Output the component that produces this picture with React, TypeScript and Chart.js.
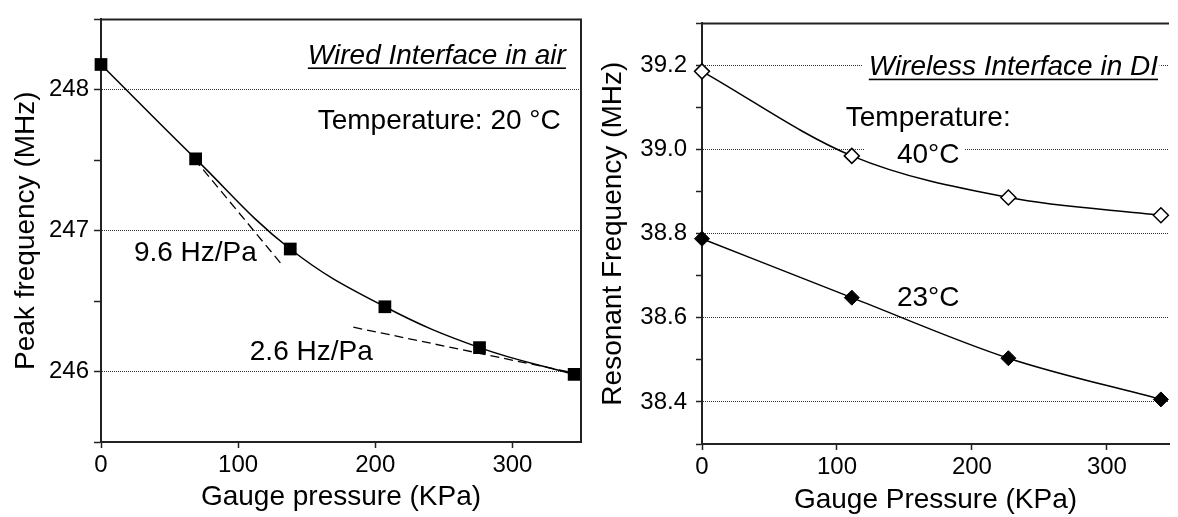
import React, { useEffect, useRef } from 'react';
import { Chart, registerables } from 'chart.js';

Chart.register(...registerables);

const FONT = "'Liberation Sans', Arial, Helvetica, sans-serif";

// ---- Left chart: wired interface in air ----
const wiredPressure = [0, 69, 138, 207, 276, 345];
const wiredFreq = [248.18, 247.51, 246.87, 246.46, 246.17, 245.98];
const tangentLowX = [68, 131];
const tangentLowY = [247.51, 246.77];
const tangentHighX = [184, 345];
const tangentHighY = [246.315, 245.99];

// ---- Right chart: wireless interface in DI ----
const wirelessPressure = [0, 111, 227, 340];
const freq40C = [39.186, 38.985, 38.886, 38.844];
const freq23C = [38.788, 38.648, 38.504, 38.406];

const INK = '#000';
const AXIS = '#222';
const GRID = '#333';

type Note = {
  text: string;
  x: number;
  y: number;
  align: CanvasTextAlign;
  size: number;
  italic?: boolean;
  underline?: boolean;
};
type Mask = { x1: number; x2: number; y: number };

const pts = (xs: number[], ys: number[]) => xs.map((x, i) => ({ x, y: ys[i] }));

function makeNotesPlugin(notes: Note[], masks: Mask[]) {
  return {
    id: 'notes',
    beforeDatasetsDraw(chart: any) {
      const { ctx, scales } = chart;
      const xs = scales.x;
      const ys = scales.y;
      ctx.save();
      ctx.fillStyle = '#fff';
      for (const m of masks) {
        const a = xs.getPixelForValue(m.x1);
        const b = xs.getPixelForValue(m.x2);
        const py = ys.getPixelForValue(m.y);
        ctx.fillRect(a, py - 3, b - a, 6);
      }
      ctx.restore();
    },
    afterDatasetsDraw(chart: any) {
      const { ctx, scales } = chart;
      const xs = scales.x;
      const ys = scales.y;
      ctx.save();
      for (const n of notes) {
        ctx.font = `${n.italic ? 'italic ' : ''}${n.size}px ${FONT}`;
        ctx.textAlign = n.align;
        ctx.textBaseline = 'alphabetic';
        ctx.fillStyle = INK;
        const px = xs.getPixelForValue(n.x);
        const py = ys.getPixelForValue(n.y);
        ctx.fillText(n.text, px, py);
        if (n.underline) {
          const w = ctx.measureText(n.text).width;
          const left = n.align === 'right' ? px - w : n.align === 'center' ? px - w / 2 : px;
          ctx.fillRect(left, py + 3.5, w, 1.6);
        }
      }
      ctx.restore();
    },
  };
}

function makeFramePlugin(drawRight: boolean) {
  return {
    id: 'frame',
    afterDraw(chart: any) {
      const { ctx, chartArea } = chart;
      ctx.save();
      ctx.strokeStyle = AXIS;
      ctx.lineWidth = 2;
      ctx.beginPath();
      ctx.moveTo(chartArea.left, chartArea.top);
      ctx.lineTo(chartArea.right, chartArea.top);
      if (drawRight) {
        ctx.lineTo(chartArea.right, chartArea.bottom);
      }
      ctx.stroke();
      ctx.restore();
    },
  };
}

const tickFont = { family: FONT, size: 24 };
const titleFont = { family: FONT, size: 28 };

function leftConfig(): any {
  const notes: Note[] = [
    { text: 'Wired Interface in air', x: 339, y: 248.184, align: 'right', size: 28, italic: true, underline: true },
    { text: 'Temperature: 20 \u00B0C', x: 158, y: 247.722, align: 'left', size: 28 },
    { text: '9.6 Hz/Pa', x: 24, y: 246.784, align: 'left', size: 28 },
    { text: '2.6 Hz/Pa', x: 108.5, y: 246.083, align: 'left', size: 28 },
  ];
  return {
    type: 'line',
    data: {
      datasets: [
        {
          data: pts(wiredPressure, wiredFreq),
          borderColor: INK,
          borderWidth: 1.5,
          tension: 0.4,
          pointStyle: 'rect',
          pointRadius: 9,
          pointBackgroundColor: INK,
          pointBorderColor: INK,
          pointBorderWidth: 0,
          clip: false,
        },
        {
          data: pts(tangentLowX, tangentLowY),
          borderColor: INK,
          borderWidth: 1.3,
          borderDash: [9, 5],
          pointRadius: 0,
          tension: 0,
          clip: false,
        },
        {
          data: pts(tangentHighX, tangentHighY),
          borderColor: INK,
          borderWidth: 1.3,
          borderDash: [9, 5],
          pointRadius: 0,
          tension: 0,
          clip: false,
        },
      ],
    },
    options: {
      animation: false,
      responsive: false,
      layout: { padding: { top: 6, right: 6, left: 0, bottom: 0 } },
      plugins: { legend: { display: false }, tooltip: { enabled: false } },
      scales: {
        x: {
          type: 'linear',
          min: 0,
          max: 350,
          ticks: { stepSize: 100, includeBounds: false, font: tickFont, color: INK, padding: 3, maxRotation: 0 },
          grid: { drawOnChartArea: false, drawTicks: true, tickLength: 6, tickColor: AXIS, tickWidth: 1.5 },
          border: { display: true, color: AXIS, width: 2 },
          title: { display: true, text: 'Gauge pressure (KPa)', font: titleFont, color: INK, padding: { top: 0, bottom: 3 } },
          afterFit: (s: any) => { s.height = 75; },
        },
        y: {
          type: 'linear',
          min: 245.5,
          max: 248.5,
          ticks: {
            stepSize: 0.5,
            font: tickFont,
            color: INK,
            padding: 5,
            callback: (v: number) => (Math.abs(v - Math.round(v)) < 1e-6 ? String(Math.round(v)) : ''),
          },
          grid: {
            color: (c: any) => (c.tick && Math.abs(c.tick.value - Math.round(c.tick.value)) < 1e-6 ? GRID : 'rgba(0,0,0,0)'),
            lineWidth: 1,
            tickLength: 7,
            tickColor: AXIS,
            tickWidth: 1.5,
          },
          border: { display: true, color: AXIS, width: 2, dash: [1, 1] },
          title: { display: true, text: 'Peak frequency (MHz)', font: titleFont, color: INK, padding: { top: 9, bottom: 0 } },
          afterFit: (s: any) => { s.width = 101; },
        },
      },
    },
    plugins: [makeNotesPlugin(notes, []), makeFramePlugin(true)],
  };
}

function rightConfig(): any {
  const notes: Note[] = [
    { text: 'Wireless Interface in DI', x: 123.6, y: 39.177, align: 'left', size: 28, italic: true, underline: true },
    { text: 'Temperature:', x: 167.6, y: 39.056, align: 'center', size: 28 },
    { text: '40\u00B0C', x: 167.6, y: 38.968, align: 'center', size: 28 },
    { text: '23\u00B0C', x: 167.6, y: 38.627, align: 'center', size: 28 },
  ];
  const masks: Mask[] = [
    { x1: 119.2, x2: 339, y: 39.2 },
    { x1: 120.6, x2: 194.7, y: 39.0 },
  ];
  const isEven = (v: number) => Math.round(v * 10) % 2 === 0;
  return {
    type: 'line',
    data: {
      datasets: [
        {
          data: pts(wirelessPressure, freq40C),
          borderColor: INK,
          borderWidth: 1.5,
          cubicInterpolationMode: 'monotone',
          pointStyle: 'rectRot',
          pointRadius: 7.5,
          pointBackgroundColor: '#fff',
          pointBorderColor: INK,
          pointBorderWidth: 1.5,
          clip: false,
        },
        {
          data: pts(wirelessPressure, freq23C),
          borderColor: INK,
          borderWidth: 1.5,
          cubicInterpolationMode: 'monotone',
          pointStyle: 'rectRot',
          pointRadius: 7.5,
          pointBackgroundColor: INK,
          pointBorderColor: INK,
          pointBorderWidth: 1,
          clip: false,
        },
      ],
    },
    options: {
      animation: false,
      responsive: false,
      layout: { padding: { top: 12, right: 0, left: 0, bottom: 0 } },
      plugins: { legend: { display: false }, tooltip: { enabled: false } },
      scales: {
        x: {
          type: 'linear',
          min: 0,
          max: 346,
          ticks: { stepSize: 100, includeBounds: false, font: tickFont, color: INK, padding: 3, maxRotation: 0 },
          grid: { drawOnChartArea: false, drawTicks: true, tickLength: 6, tickColor: AXIS, tickWidth: 1.5 },
          border: { display: true, color: AXIS, width: 2 },
          title: { display: true, text: 'Gauge Pressure (KPa)', font: titleFont, color: INK, padding: { top: 0, bottom: 0 } },
          afterFit: (s: any) => { s.height = 73; },
        },
        y: {
          type: 'linear',
          min: 38.3,
          max: 39.3,
          ticks: {
            stepSize: 0.1,
            font: tickFont,
            color: INK,
            padding: 9,
            callback: (v: number) => (isEven(v) ? v.toFixed(1) : ''),
          },
          grid: {
            color: (c: any) => (c.tick && isEven(c.tick.value) ? GRID : 'rgba(0,0,0,0)'),
            lineWidth: 1,
            tickLength: 6,
            tickColor: AXIS,
            tickWidth: 1.5,
          },
          border: { display: true, color: AXIS, width: 2, dash: [1, 1] },
          title: { display: true, text: 'Resonant Frequency (MHz)', font: titleFont, color: INK, padding: { top: 6, bottom: 0 } },
          afterFit: (s: any) => { s.width = 112; },
        },
      },
    },
    plugins: [makeNotesPlugin(notes, masks), makeFramePlugin(false)],
  };
}

export default function App() {
  const leftRef = useRef<HTMLCanvasElement>(null);
  const rightRef = useRef<HTMLCanvasElement>(null);

  useEffect(() => {
    document.body.style.margin = '0';
    const c1 = new Chart(leftRef.current as HTMLCanvasElement, leftConfig());
    const c2 = new Chart(rightRef.current as HTMLCanvasElement, rightConfig());
    return () => {
      c1.destroy();
      c2.destroy();
    };
  }, []);

  return (
    <div style={{ position: 'fixed', left: 0, top: 0, width: 1178, height: 517, background: '#fff', overflow: 'hidden' }}>
      <canvas ref={leftRef} width={590} height={517} style={{ position: 'absolute', left: 0, top: 0 }} />
      <canvas ref={rightRef} width={588} height={517} style={{ position: 'absolute', left: 590, top: 0 }} />
    </div>
  );
}
